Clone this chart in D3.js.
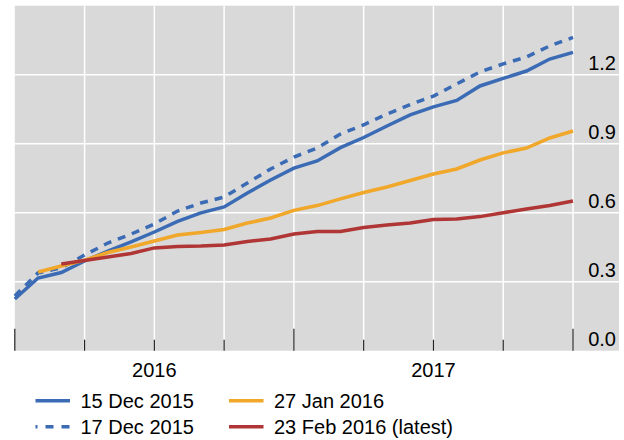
<!DOCTYPE html>
<html>
<head>
<meta charset="utf-8">
<script src="https://cdn.jsdelivr.net/npm/d3@7"></script>
<style>
  body { margin: 0; background: #fff; }
  text { font-family: "Liberation Sans", Arial, sans-serif; fill: #000; }
</style>
</head>
<body>
<svg id="chart" width="624" height="440"></svg>
<script>
// months since Jan 2016 (0 = Jan 2016 ... 24 = Jan 2018)
var months = d3.range(0, 25);

var dec15 = [0.225, 0.316, 0.34, 0.39, 0.433, 0.473, 0.516, 0.562, 0.599, 0.625, 0.686, 0.742, 0.794,
             0.825, 0.883, 0.927, 0.977, 1.025, 1.06, 1.088, 1.151, 1.184, 1.216, 1.268, 1.297];
var dec17 = [0.238, 0.338, 0.36, 0.416, 0.468, 0.507, 0.551, 0.607, 0.642, 0.668, 0.729, 0.79, 0.842,
             0.881, 0.942, 0.982, 1.029, 1.07, 1.107, 1.16, 1.212, 1.247, 1.277, 1.325, 1.362];
var jan27 = [null, 0.342, 0.368, 0.394, 0.427, 0.451, 0.477, 0.503, 0.514, 0.527, 0.555, 0.577, 0.61,
             0.631, 0.66, 0.688, 0.712, 0.74, 0.768, 0.79, 0.829, 0.86, 0.881, 0.925, 0.955];
var feb23 = [null, null, 0.377, 0.392, 0.407, 0.423, 0.447, 0.453, 0.455, 0.46, 0.475, 0.486, 0.507,
             0.518, 0.518, 0.536, 0.547, 0.555, 0.57, 0.573, 0.583, 0.6, 0.616, 0.631, 0.651];

var yTicks = [0.0, 0.3, 0.6, 0.9, 1.2];
var yearLabels = ["2016", "2017"];

var series = [
  {name: "15 Dec 2015", values: dec15, color: "#3a6bb4", dash: null},
  {name: "17 Dec 2015", values: dec17, color: "#3a6bb4", dash: "8,7"},
  {name: "27 Jan 2016", values: jan27, color: "#f0a72a", dash: null},
  {name: "23 Feb 2016 (latest)", values: feb23, color: "#b03636", dash: null}
];

var svg = d3.select("#chart");

var x = d3.scaleLinear().domain([0, 24]).range([14.8, 573]);
var y = d3.scaleLinear().domain([0, 1.5]).range([350.7, 5.7]);

// plot box (avoid "top" - it's window.top)
var pLeft = x(0), pRight = x(25.98), pTop = y(1.5), pBottom = y(0);

svg.append("rect")
   .attr("x", pLeft).attr("y", pTop)
   .attr("width", pRight - pLeft).attr("height", pBottom - pTop)
   .attr("fill", "#d9d9d9");

// grid
var quarters = d3.range(3, 25, 3);
svg.append("g").selectAll("line").data(quarters).enter().append("line")
   .attr("x1", function(d) { return x(d); }).attr("x2", function(d) { return x(d); })
   .attr("y1", pTop).attr("y2", pBottom)
   .attr("stroke", "#fff").attr("stroke-width", 1.5);

svg.append("g").selectAll("line").data(yTicks.slice(1)).enter().append("line")
   .attr("x1", pLeft).attr("x2", pRight)
   .attr("y1", function(d) { return y(d); }).attr("y2", function(d) { return y(d); })
   .attr("stroke", "#fff").attr("stroke-width", 1.5);

// x ticks inside the plot
svg.append("g").selectAll("line").data(d3.range(0, 25, 3)).enter().append("line")
   .attr("x1", function(d) { return x(d); }).attr("x2", function(d) { return x(d); })
   .attr("y1", function(d) { return d % 12 === 0 ? pBottom - 22 : pBottom - 11; })
   .attr("y2", pBottom)
   .attr("stroke", "#222").attr("stroke-width", 1.2);

// lines
var line = d3.line()
   .defined(function(d) { return d != null; })
   .x(function(d, i) { return x(months[i]); })
   .y(function(d) { return y(d); });

series.forEach(function(s) {
  svg.append("path")
     .datum(s.values)
     .attr("d", line)
     .attr("fill", "none")
     .attr("stroke", s.color)
     .attr("stroke-width", 3.5)
     .attr("stroke-dasharray", s.dash);
});

// right axis labels
svg.append("g").selectAll("text").data(yTicks).enter().append("text")
   .attr("x", 616).attr("y", function(d) { return y(d) - 4.5; })
   .attr("text-anchor", "end")
   .style("font-size", "20px")
   .text(function(d) { return d.toFixed(1); });

// year labels
svg.append("g").selectAll("text").data(yearLabels).enter().append("text")
   .attr("x", function(d, i) { return x(6 + i * 12); })
   .attr("y", 376.7)
   .attr("text-anchor", "middle")
   .style("font-size", "20px")
   .text(function(d) { return d; });

// legend
var legPos = [[35.5, 400.7], [35.5, 426.7], [229, 400.7], [229, 426.7]];
series.forEach(function(s, i) {
  var p = legPos[i];
  svg.append("line")
     .attr("x1", p[0]).attr("x2", p[0] + 34.5)
     .attr("y1", p[1]).attr("y2", p[1])
     .attr("stroke", s.color).attr("stroke-width", 3.5)
     .attr("stroke-dasharray", s.dash ? "8,8" : null)
     .attr("stroke-dashoffset", s.dash ? 6 : null);
  svg.append("text")
     .attr("x", p[0] + 45).attr("y", p[1] + 7.5)
     .style("font-size", "20px")
     .text(s.name);
});
</script>
</body>
</html>
